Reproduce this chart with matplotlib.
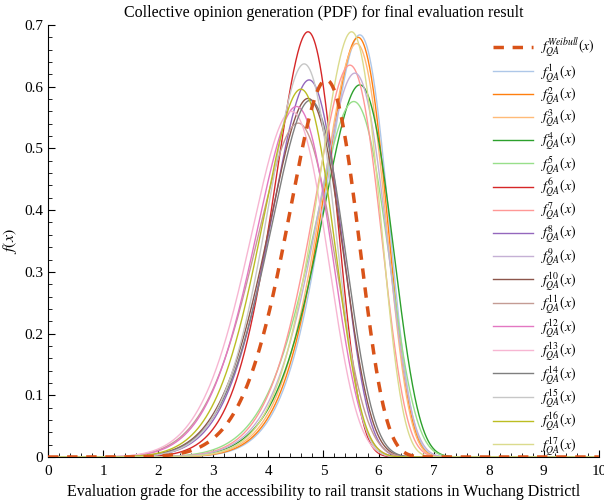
import numpy as np
import matplotlib.pyplot as plt
from matplotlib.ticker import MultipleLocator

plt.rcParams['font.family'] = 'Liberation Serif'
plt.rcParams['mathtext.fontset'] = 'stix'

# Peak location (mode) and peak height of each Weibull PDF
labels = ['Weibull'] + [str(i) for i in range(1, 18)]
modes = [5.05, 5.66, 5.63, 5.60, 5.66, 5.55, 4.72, 5.48, 4.74, 5.57,
         4.72, 4.54, 4.51, 4.42, 4.76, 4.65, 4.59, 5.51]
peaks = [0.611, 0.684, 0.680, 0.670, 0.603, 0.576, 0.689, 0.635, 0.611, 0.622,
         0.581, 0.541, 0.568, 0.560, 0.578, 0.637, 0.596, 0.689]

colors = ['#d95319'] + list(plt.get_cmap('tab20').colors[1:18])


def weibull_pdf(x, k, lam):
    return (k / lam) * (x / lam) ** (k - 1) * np.exp(-(x / lam) ** k)


def params_from_peak(m, h):
    # find shape k whose pdf has height h at mode m
    ks = np.linspace(2, 40, 4000)
    lam = m / ((ks - 1) / ks) ** (1 / ks)
    hs = weibull_pdf(m, ks, lam)
    k = np.interp(h, hs, ks)
    return k, m / ((k - 1) / k) ** (1 / k)


x = np.linspace(0, 10, 2001)

fig = plt.figure(figsize=(6.04, 5.0), dpi=100)
ax = fig.add_axes([0.0795, 0.086, 0.912, 0.864])

for i, (lab, m, h) in enumerate(zip(labels, modes, peaks)):
    k, lam = params_from_peak(m, h)
    y = weibull_pdf(x, k, lam)
    if i == 0:
        ax.plot(x, y, color=colors[0], lw=2.5, ls=(0, (3, 2.5)), zorder=5,
                label=r'$f_{QA}^{Weibull}(x)$')
    else:
        ax.plot(x, y, color=colors[i], lw=1.0, label=r'$f_{QA}^{%s}(x)$' % lab)

ax.set_xlim(0, 10)
ax.set_ylim(0, 0.7)
ax.set_xticks(np.arange(0, 11))
ax.set_xticklabels([str(v) for v in range(0, 11)])
ax.xaxis.set_minor_locator(MultipleLocator(0.2))
ax.set_yticks(np.arange(0, 0.71, 0.1))
ax.set_yticklabels(['0', '0.1', '0.2', '0.3', '0.4', '0.5', '0.6', '0.7'])
ax.yaxis.set_minor_locator(MultipleLocator(0.02))
ax.tick_params(which='both', direction='in', labelsize=11)
ax.tick_params(which='major', length=5)
ax.tick_params(which='minor', length=3)
ax.tick_params(axis='x', pad=6)
ax.spines['top'].set_visible(False)
ax.spines['right'].set_visible(False)

ax.set_title('Collective opinion generation (PDF) for final evaluation result', fontsize=11.5, pad=6)
ax.set_xlabel('Evaluation grade for the accessibility to rail transit stations in Wuchang Districtl', fontsize=11.5)
ax.set_ylabel(r'$f(x)$', fontsize=11.5)

ax.legend(loc='upper left', bbox_to_anchor=(0.79, 0.995), frameon=False, fontsize=10,
          handlelength=2.9, labelspacing=0.11, handletextpad=0.5, borderaxespad=0.3)

fig.savefig('out.png', dpi=100)
